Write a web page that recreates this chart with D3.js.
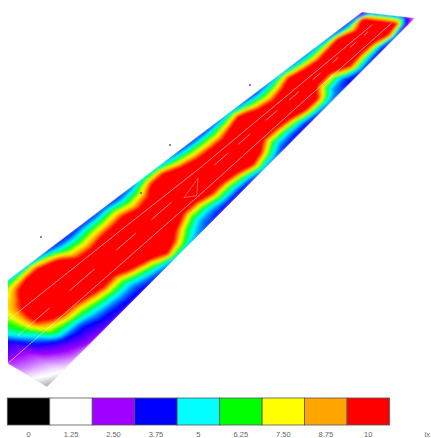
<!DOCTYPE html>
<html><head><meta charset="utf-8">
<style>html,body{margin:0;padding:0;background:#fff}svg{display:block}</style>
<script src="https://cdn.jsdelivr.net/npm/d3@7"></script>
</head><body><svg id="c" width="431" height="438"></svg>
<script>
// Illuminance. Rows: stations along the road, columns: positions across it.
const stations = [0,.04,.08,.10,.12,.14,.17,.20,.23,.26,.29,.32,.35,.38,.41,.44,.47,.50,.53,.56,.59,.62,.65,.68,.71,.74,.77,.80,.83,.86,.89,.92,.95,.98,1];
const across = [0,.05,.1,.15,.2,.25,.3,.4,.5,.6,.65,.7,.75,.8,.85,.9,.95,1];
const illuminance = [
[5,5,5,5,5,5,4.8,4.3,3.2,2.4,2.2,2,1.8,1.55,1.35,1.2,1.05,.85],
[5.5,5.5,5.5,5.4,5.3,5.1,4.9,4.4,3.4,2.9,2.6,2.4,2.2,2,1.8,1.6,1.45,1.3],
[6,6.3,6.6,6.8,7,7,7,6.9,6.5,5.2,4.7,4.2,3.6,3.2,2.8,2.5,2.2,1.9],
[7,7.5,7.7,7.8,8,8.4,8.9,9.6,9.7,7.9,6.9,5.9,4.8,3.8,3.3,2.9,2.5,2.1],
[6,6.5,7.2,8,9,10,11,12,11.5,9.4,7.6,6.2,5.1,4.2,3.7,3.3,2.9,2.5],
[5,6.5,8.5,10,11,12,12,12,12,10.4,8.8,6.8,5.3,4.3,3.8,3.4,3.1,2.7],
[4.5,7.2,10,12,12,12,12,12,12,10.8,9,7.3,6,5,4.4,3.9,3.5,3.1],
[4.4,8,10.5,12,12,12,12,12,12,12,10.3,8.4,6.8,5.5,4.7,4.1,3.7,3.3],
[4.1,6,8.2,10.8,12,12,12,12,12,12,11.5,9.6,7.6,6,5,4.4,3.9,3.5],
[3.9,4.6,5.6,6.8,8.2,9.5,11,12,12,12,11.2,9.2,7.4,6,5,4.4,4,3.7],
[3.8,4.4,5.3,6.4,7.7,9.1,10.5,12,12,12,12,11.6,10.2,7.9,6.2,5.1,4.4,3.9],
[3.9,4.7,5.7,7,8.4,10,11.5,12,12,12,12,12,12,10.4,8,6.3,5,4.3],
[3.9,4.7,5.8,7.2,8.7,10.3,11.8,12,12,12,12,12,12,12,11.5,10,6.9,4.8],
[4,5,6.3,7.8,9.3,11,12,12,12,12,12,12,12,11.2,10,8,6.4,5],
[3.9,4.6,5.5,6.7,8,9.4,11,12,12,12,12,12,10.4,8.2,6.6,5.5,4.9,4.5],
[4.2,5,6.2,7.6,9.2,10.3,11.8,12,12,12,11.5,9.5,7.6,6.2,5.2,4.6,4.3,4.1],
[5,6.5,8.8,10.8,12,12,12,12,12,12,11.2,9.7,7.8,6.2,5.2,4.5,4.1,3.8],
[5,6.8,9.4,11,12,12,12,12,12,12,12,11.4,10,7.8,6.2,5,4.2,3.7],
[4.5,5.4,6.6,8.2,10,11.5,12,12,12,12,12,11.2,9.8,7.7,6.1,5,4.2,3.7],
[4,4.9,5.9,7.2,8.5,10,11.4,12,12,12,12,12,11.2,9.2,7,5.5,4.5,3.9],
[3.9,4.7,5.7,6.9,8.2,9.7,11.2,12,12,12,12,12,12,11.4,10.1,7.6,5.7,4.5],
[3.9,4.7,5.7,6.9,8.2,9.7,11.2,12,12,12,12,12,11.5,10,8,6.2,5,4.4],
[4.2,5.1,6.5,8,10,11.5,12,12,12,12,11.2,9.6,7.8,6.3,5.2,4.6,4.2,3.9],
[4.6,6,8,10.8,12,12,12,12,12,12,11.4,10,8,6.4,5.2,4.5,4,3.7],
[4.2,5,6,7.2,8.6,10,11.5,12,12,12,12,11,9.3,7.3,5.8,4.7,4,3.6],
[3.9,4.6,5.4,6.4,7.5,8.8,10,12,12,12,12,12,11.5,10.3,7.8,6,4.7,3.8],
[4.2,5,6,7.2,8.7,10.2,11.6,12,12,12,12,12,11.4,10.2,8,6.2,5,4.3],
[4.6,6,7.8,9.8,11.5,12,12,12,12,10.5,9.4,7.8,6.4,5.3,4.7,4.4,4.3,4.2],
[4.3,5.2,6.4,7.8,9.5,11,12,12,12,10.8,8.6,7.1,5.9,5,4.4,4,3.8,3.6],
[4.1,4.9,5.9,7.1,8.5,10,11.5,12,12,12,12,11.4,10.5,9.2,7.2,5.6,4.6,3.8],
[4.3,5.2,6.4,8,10,11.3,12,12,12,12,12,11,10,8,6.3,5,4.2,3.8],
[3.9,5,7,10,11.5,12,12,12,12,12,12,11,10.2,8.1,6.3,4.8,3.9,3.3],
[3.5,4.3,5.3,6.5,7.9,9.4,11,12,12,12,12,12,12,11,10.2,7.6,5,3.2],
[3,4.3,6,10,11,11,11,11,11,11,11,11,10.5,10,7.2,5,3.6,2.6],
[2.8,2.9,3,3.2,3.4,3.6,3.7,3.8,3.8,3.7,3.6,3.5,3.3,3.1,2.8,2.5,2.2,2]
];
const legendValues = [0,1.25,2.5,3.75,5,6.25,7.5,8.75,10];
const legendLabels = ["0","1.25","2.50","3.75","5","6.25","7.50","8.75","10"];
const legendColors = ["#000000","#ffffff","#a000ff","#0000ff","#00ffff","#00ff00","#ffff00","#ffa500","#ff0000"];
const unitLabel = "lx";
const solidLaneA = [[.075,.31],[.35,.34],[.54,.38],[.97,.42]];
const solidLaneB = [[0,.61],[.49,.65],[.75,.66],[.98,.70]];
const dashStarts = [.06,.19,.31,.40,.56,.62,.69,.75,.81,.86,.905,.94];
const dashEnds   = [.14,.255,.36,.45,.595,.65,.72,.775,.83,.875,.92,.95];
const dashAcross = .48;
const marker = [[.47,.54],[.52,.47],[.485,.63]];
const specks = [[41,237],[170,145],[141,193],[250,85]];

const svg = d3.select("#c");
const W = 431, H = 438, leftClip = 8;

const upX = d3.scaleLinear([0,1],[-54,362]), upY = d3.scaleLinear([0,1],[327,12]);
const loX = d3.scaleLinear([0,1],[47,415]),  loY = d3.scaleLinear([0,1],[387,18]);
const road = (u,v)=>[upX(u)+(loX(u)-upX(u))*v, upY(u)+(loY(u)-upY(u))*v];

const n = across.length, m = stations.length;
const vOf = d3.scaleLinear(across.map((_,i)=>i+.5),across).clamp(true);
const uOf = d3.scaleLinear(stations.map((_,i)=>i+.5),stations).clamp(true);
const path = d3.geoPath(d3.geoTransform({point(x,y){const p=road(uOf(y),vOf(x));this.stream.point(p[0],p[1]);}}));

const color = d3.scaleLinear(legendValues,legendColors).clamp(true);
const thresholds = d3.range(0,10.01,.125);
const contours = d3.contours().size([n,m]).thresholds(thresholds)(illuminance.flat());

const defs = svg.append("defs");
defs.append("filter").attr("id","soft").attr("filterUnits","userSpaceOnUse").attr("x",-60).attr("y",0).attr("width",500).attr("height",400)
  .append("feGaussianBlur").attr("stdDeviation",1.1);
defs.append("filter").attr("id","soft2").attr("filterUnits","userSpaceOnUse").attr("x",0).attr("y",0).attr("width",W).attr("height",H)
  .append("feGaussianBlur").attr("stdDeviation",0.5);
defs.append("clipPath").attr("id","roadClip").append("path")
  .attr("d",d3.line()([road(0,0),road(1,0),road(1,1),road(0,1)])+"Z");
defs.append("clipPath").attr("id","leftClip").append("rect")
  .attr("x",leftClip).attr("y",0).attr("width",W-leftClip).attr("height",H);

const outer = svg.append("g").attr("filter","url(#soft2)").append("g").attr("clip-path","url(#leftClip)").append("g").attr("clip-path","url(#roadClip)");
const field = outer.append("g").attr("filter","url(#soft)");
field.selectAll("path").data(contours).join("path")
  .attr("d",path).attr("fill",d=>color(d.value));

const lanes = outer.append("g").attr("fill","none").attr("stroke","#ffffff").attr("stroke-opacity",.55).attr("stroke-width",1);
const line = d3.line().x(d=>road(d[0],d[1])[0]).y(d=>road(d[0],d[1])[1]);
lanes.selectAll("path.solid").data([solidLaneA,solidLaneB]).join("path").attr("class","solid").attr("d",line);
lanes.selectAll("path.dash").data(dashStarts.map((s,i)=>[[s,dashAcross],[dashEnds[i],dashAcross]])).join("path").attr("class","dash").attr("d",line);
lanes.append("path").attr("d",line(marker)+"Z").attr("stroke-opacity",.35);

svg.append("g").attr("filter","url(#soft2)").selectAll("circle").data(specks).join("circle")
  .attr("cx",d=>d[0]).attr("cy",d=>d[1]).attr("r",.9).attr("fill","#555");

const band = d3.scaleBand(legendLabels,[7.3,389.5]);
const lg = svg.append("g");
lg.append("g").attr("filter","url(#soft2)").selectAll("rect").data(legendLabels).join("rect")
  .attr("x",d=>band(d)).attr("y",398).attr("width",band.bandwidth()).attr("height",27)
  .attr("fill",(d,i)=>legendColors[i]).attr("stroke","#555").attr("stroke-width",.8);
const ax = lg.append("g").attr("transform","translate(0,430)")
  .call(d3.axisBottom(band).tickSize(0).tickPadding(2));
ax.select(".domain").remove();
ax.selectAll("text").attr("font-family","Liberation Sans, sans-serif").attr("font-size",7.5).attr("fill","#666");
lg.append("text").attr("x",424.5).attr("y",437).attr("font-family","Liberation Sans, sans-serif").attr("font-size",7.5).attr("fill","#666").text(unitLabel);
</script></body></html>
